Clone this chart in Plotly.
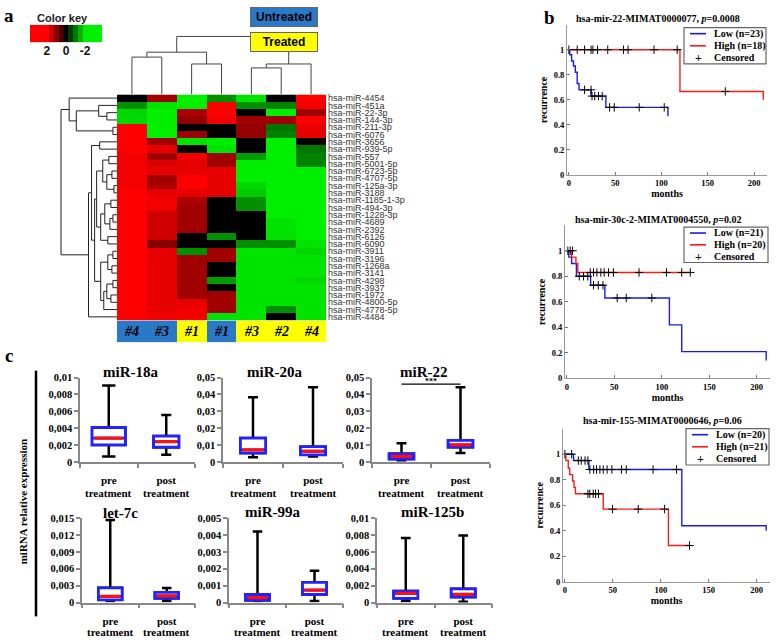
import plotly.graph_objects as go

W, H = 778, 643
SERIF = "Liberation Serif"
SANS = "Liberation Sans"

# ---------------- heatmap data ----------------
row_labels = ["hsa-miR-4454", "hsa-miR-451a", "hsa-miR-22-3p", "hsa-miR-144-3p", "hsa-miR-211-3p",
              "hsa-miR-6076", "hsa-miR-3656", "hsa-miR-939-5p", "hsa-miR-557", "hsa-miR-5001-5p",
              "hsa-miR-6723-5p", "hsa-miR-4707-5p", "hsa-miR-125a-3p", "hsa-miR-3188", "hsa-miR-1185-1-3p",
              "hsa-miR-494-3p", "hsa-miR-1228-3p", "hsa-miR-4689", "hsa-miR-2392", "hsa-miR-6126",
              "hsa-miR-6090", "hsa-miR-3911", "hsa-miR-3196", "hsa-miR-1268a", "hsa-miR-3141",
              "hsa-miR-4298", "hsa-miR-3937", "hsa-miR-1972", "hsa-miR-4800-5p", "hsa-miR-4778-5p",
              "hsa-miR-4484"]
col_labels = ["#4", "#3", "#1", "#1", "#3", "#2", "#4"]
col_groups = [0, 0, 1, 0, 1, 1, 1]          # 0 = Untreated, 1 = Treated
group_names = ["Untreated", "Treated"]
z_expr = [
    [0, 1.2, -2, -1.2, -1.9, 0, 2],
    [-1.2, -1.9, -2, 2, -1.2, -1.1, 1.9],
    [-1.8, -2, 1.3, 2, 0, -2, 1.2],
    [-1.8, -2, 1.1, 1.9, 1.2, 1.2, 2],
    [2, -2, 0, 0, 1.1, -1.0, 1.8],
    [2, -2, 1.2, 0, 1.1, -1.1, 1.8],
    [2, 1.2, -1.9, -2, 0, -2, 0],
    [2, 1.8, 0, -1.9, 0, -2, -1.0],
    [1.9, 1.2, 1.9, 1.2, -1.3, -2, -1.1],
    [1.9, 1.7, 1.8, 1.2, -2, -2, -1.1],
    [1.9, 1.8, 1.8, 1.8, -2, -2, -2],
    [1.9, 1.2, 2, 1.8, -2, -2, -2],
    [1.9, 1.3, 2, 1.8, -1.8, -2, -2],
    [2, 1.8, 1.8, 1.8, -1.7, -2, -2],
    [2, 1.9, 1.3, 0, -1.2, -2, -2],
    [2, 1.9, 1.2, 0, -1.2, -2, -2],
    [2, 1.6, 1.2, 0, 0, -2, -2],
    [2, 1.6, 1.2, 0, 0, -1.9, -2],
    [2, 1.6, 1.2, 0, 0, -1.9, -2],
    [2, 1.6, 0, -1.2, 0, -1.9, -2],
    [2, 1.0, 0, 0, -1.2, -1.2, -1.9],
    [2, 1.8, -1.2, 1.2, -1.9, -1.9, -1.8],
    [2, 1.8, 1.2, 1.2, -1.9, -1.9, -1.9],
    [2, 1.8, 1.2, 0, -1.9, -1.9, -1.9],
    [2, 1.8, 1.2, 0, -1.9, -1.9, -1.9],
    [2, 1.8, 1.2, -1.3, -1.9, -1.9, -1.8],
    [2, 1.8, 1.2, 0, -1.9, -1.9, -1.9],
    [2, 1.8, 1.2, 1.2, -1.9, -1.9, -1.9],
    [2, 1.8, 1.8, 1.2, -1.9, -1.9, -1.9],
    [2, 1.8, 1.9, 1.2, -1.9, -1.2, -1.9],
    [2, 1.9, 1.9, -1.9, -1.9, 0, -1.9],
]
color_key_levels = [3.5, 3.0, 2.5, 2.0, 1.5, 1.0, 0.5, 0.0, -0.5, -1.0, -1.5, -2.0, -2.5, -3.0, -3.5]
color_key_ticks = [2, 0, -2]
# linkage lists: [child a, child b, height]
row_merges = [[2, 3, 10], [1, 31, 18], [4, 5, 4], [32, 33, 40], [0, 34, 47],
              [6, 7, 17], [8, 9, 8], [10, 11, 5], [12, 13, 3], [38, 39, 10], [37, 40, 14],
              [14, 15, 6], [16, 17, 4], [43, 18, 7], [42, 44, 12], [19, 20, 9], [45, 46, 16],
              [41, 47, 20], [21, 22, 4], [23, 24, 5], [49, 50, 9], [25, 26, 4], [27, 28, 6],
              [52, 53, 10], [54, 29, 13], [51, 55, 16], [48, 56, 22], [36, 57, 25],
              [58, 30, 28], [35, 59, 55]]
col_merges = [[0, 1, 38], [2, 3, 31], [7, 8, 43], [4, 5, 27], [10, 6, 31], [9, 11, 59]]

# ---------------- Kaplan-Meier data ----------------
km_titles = ["hsa-mir-22-MIMAT0000077, <i>p</i>=0.0008",
             "hsa-mir-30c-2-MIMAT0004550, <i>p</i>=0.02",
             "hsa-mir-155-MIMAT0000646, <i>p</i>=0.06"]
km_low_names = ["Low (n=23)", "Low (n=21)", "Low (n=20)"]
km_high_names = ["High (n=18)", "High (n=20)", "High (n=21)"]
km_cens_name = "Censored"
km_low_t = [[0, 1, 3, 5, 7, 9, 11, 24, 40, 107],
            [0, 2, 5, 10, 25, 40, 108, 121, 210],
            [0, 9, 25, 122, 210]]
km_low_s = [[1, 0.96, 0.91, 0.87, 0.82, 0.73, 0.68, 0.63, 0.54, 0.47],
            [1, 0.95, 0.9, 0.8, 0.73, 0.63, 0.42, 0.21, 0.14],
            [1, 0.95, 0.88, 0.44, 0.40]]
km_high_t = [[0, 120, 210],
             [0, 5, 9.5, 11.5, 130],
             [0, 1, 3.5, 5, 8, 9.5, 11, 40, 108, 130]]
km_high_s = [[1, 0.667, 0.6],
             [1, 0.95, 0.9, 0.83, 0.83],
             [1, 0.95, 0.89, 0.84, 0.79, 0.74, 0.69, 0.57, 0.285, 0.285]]
km_cens_t = [[0, 9, 17, 24, 26, 31, 42, 59, 64, 92, 117, 169, 17, 24, 25, 28, 32, 36, 44, 49, 76, 103],
             [1, 3.5, 6, 13, 17.5, 22, 28, 33, 38, 53, 62.5, 89.5,
              24.6, 28, 31.6, 35.8, 39.3, 43.9, 49, 76, 105, 121, 130],
             [0, 7, 14, 17, 21, 24, 26, 30, 33, 36.5, 40, 44, 49, 59, 64, 92, 116.5,
              24, 26, 29.5, 32, 35, 49.7, 76.5, 104, 130]]
km_cens_s = [[1, 1, 1, 1, 1, 1, 1, 1, 1, 1, 1, 0.667, 0.68, 0.68, 0.63, 0.63, 0.63, 0.63, 0.54, 0.54, 0.54, 0.54],
             [1, 1, 1, 0.8, 0.8, 0.8, 0.73, 0.73, 0.73, 0.63, 0.63, 0.63,
              0.83, 0.83, 0.83, 0.83, 0.83, 0.83, 0.83, 0.83, 0.83, 0.83, 0.83],
             [1, 1, 0.95, 0.95, 0.95, 0.95, 0.88, 0.88, 0.88, 0.88, 0.88, 0.88, 0.88, 0.88, 0.88, 0.88, 0.88,
              0.69, 0.69, 0.69, 0.69, 0.69, 0.57, 0.57, 0.57, 0.285]]
km_xticks = [0, 50, 100, 150, 200]
km_yticks = [0, 0.2, 0.4, 0.6, 0.8, 1]
km_yticktext = ["0", "0.2", "0.4", "0.6", "0.8", "1"]

# ---------------- box plot data ----------------
box_titles = ["miR-18a", "miR-20a", "miR-22", "let-7c", "miR-99a", "miR-125b"]
box_groups = ["pre", "post"]
box_group_suffix = "treatment"
box_ymax = [0.01, 0.05, 0.05, 0.015, 0.005, 0.01]
box_tickvals = [[0, 0.002, 0.004, 0.006, 0.008, 0.01],
                [0, 0.01, 0.02, 0.03, 0.04, 0.05],
                [0, 0.01, 0.02, 0.03, 0.04, 0.05],
                [0, 0.003, 0.006, 0.009, 0.012, 0.015],
                [0, 0.001, 0.002, 0.003, 0.004, 0.005],
                [0, 0.002, 0.004, 0.006, 0.008, 0.01]]
box_ticktext = [["0", "0,002", "0,004", "0,006", "0,008", "0,01"],
                ["0", "0,01", "0,02", "0,03", "0,04", "0,05"],
                ["0", "0,01", "0,02", "0,03", "0,04", "0,05"],
                ["0", "0,003", "0,006", "0,009", "0,012", "0,015"],
                ["0", "0,001", "0,002", "0,003", "0,004", "0,005"],
                ["0", "0,002", "0,004", "0,006", "0,008", "0,01"]]
pre_low = [0.00066, 0.0029, 0.0010, 0.0003, 0.0001, 0.0002]
pre_q1 = [0.00202, 0.0053, 0.0018, 0.0005, 0.00014, 0.0005]
pre_med = [0.00284, 0.0072, 0.0033, 0.0011, 0.00029, 0.00109]
pre_q3 = [0.00409, 0.0142, 0.0049, 0.00262, 0.00048, 0.00136]
pre_high = [0.00907, 0.0383, 0.0111, 0.01465, 0.00421, 0.00764]
post_low = [0.00086, 0.0033, 0.0054, 0.0003, 0.0001, 0.0001]
post_q1 = [0.00175, 0.0043, 0.0088, 0.00076, 0.00048, 0.00066]
post_med = [0.00241, 0.0064, 0.0101, 0.0012, 0.00074, 0.00097]
post_q3 = [0.00307, 0.0091, 0.0128, 0.0018, 0.0012, 0.00163]
post_high = [0.00556, 0.0442, 0.0442, 0.0026, 0.00188, 0.00795]
sig_panel = 2
sig_level = 0.0461
sig_text = "***"

# ---------------- style ----------------
BLUE_GRP = "#2a79c8"
YELLOW_GRP = "#ffff00"
HM_SCALE = [[0, "#00f000"], [0.25, "#007800"], [0.5, "#000000"], [0.75, "#880000"], [1, "#ff0000"]]
KM_BLUE = "#1a1aee"
KM_RED = "#ff1a1a"
BOX_BLUE = "#2222ff"
pre_width = [0.58, 0.42, 0.42, 0.42, 0.42, 0.42]
post_width = [0.44, 0.42, 0.42, 0.42, 0.42, 0.42]


def dx(a, b):
    return [a / W, b / W]


def dy(top, bottom):
    return [1 - bottom / H, 1 - top / H]


def dendro(n, merges):
    pos = {i: float(i) for i in range(n)}
    hgt = {i: 0.0 for i in range(n)}
    hs, ps = [], []
    for k, (a, b, h) in enumerate(merges):
        node = n + k
        hs += [hgt[a], h, h, hgt[b], None]
        ps += [pos[a], pos[a], pos[b], pos[b], None]
        pos[node] = (pos[a] + pos[b]) / 2
        hgt[node] = h
    return hs, ps


fig = go.Figure()
layout = {}
annotations = []
shapes = []
HIDE = dict(visible=False, fixedrange=True, showgrid=False, zeroline=False)


def note(px, py, text, font, **kw):
    d = dict(x=px / W, y=1 - py / H, xref="paper", yref="paper", text=text, showarrow=False,
             xanchor="center", yanchor="middle", font=font)
    d.update(kw)
    annotations.append(d)


def axes(n, xdom, ydom, xo, yo):
    xk = "xaxis" if n == 1 else f"xaxis{n}"
    yk = "yaxis" if n == 1 else f"yaxis{n}"
    layout[xk] = dict(domain=xdom, anchor="y" if n == 1 else f"y{n}", **xo)
    layout[yk] = dict(domain=ydom, anchor="x" if n == 1 else f"x{n}", **yo)
    return ("x" if n == 1 else f"x{n}"), ("y" if n == 1 else f"y{n}")


# ---- heatmap ----
xa, ya = axes(1, dx(117, 326), dy(91, 321),
              dict(HIDE, range=[-0.5, 6.5]),
              dict(range=[len(row_labels) - 0.5, -0.5], side="right", tickmode="array",
                   tickvals=list(range(len(row_labels))), ticktext=row_labels, ticks="",
                   tickfont=dict(family=SANS, size=9, color="#333"), showgrid=False,
                   zeroline=False, showline=False, ticklabelstandoff=1, fixedrange=True))
fig.add_trace(go.Heatmap(z=z_expr, x=list(range(len(col_labels))), y=list(range(len(row_labels))),
                         colorscale=HM_SCALE, zmin=-2, zmax=2, showscale=False,
                         xaxis=xa, yaxis=ya, hoverinfo="skip"))

# ---- row dendrogram ----
hs, ps = dendro(len(row_labels), row_merges)
xa, ya = axes(2, dx(60, 117), dy(91, 321),
              dict(HIDE, range=[56, 0]),
              dict(HIDE, range=[len(row_labels) - 0.5, -0.5]))
fig.add_trace(go.Scatter(x=hs, y=ps, mode="lines", line=dict(color="#222", width=1),
                         xaxis=xa, yaxis=ya, showlegend=False, hoverinfo="skip"))

# ---- column dendrogram ----
hs, ps = dendro(len(col_labels), col_merges)
xa, ya = axes(3, dx(117, 326), dy(30, 91),
              dict(HIDE, range=[-0.5, 6.5]),
              dict(HIDE, range=[0, 61]))
fig.add_trace(go.Scatter(x=ps, y=hs, mode="lines", line=dict(color="#444", width=1),
                         xaxis=xa, yaxis=ya, showlegend=False, hoverinfo="skip"))

# ---- group bar ----
xa, ya = axes(4, dx(117, 326), dy(321, 343),
              dict(HIDE, range=[-0.5, 6.5]),
              dict(HIDE, range=[-0.5, 0.5]))
fig.add_trace(go.Heatmap(z=[col_groups], x=list(range(len(col_labels))), y=[0],
                         colorscale=[[0, BLUE_GRP], [1, YELLOW_GRP]], zmin=0, zmax=1,
                         showscale=False, xaxis=xa, yaxis=ya, hoverinfo="skip"))
for i, lab in enumerate(col_labels):
    annotations.append(dict(x=i, y=0, xref=xa, yref=ya, text=lab, showarrow=False,
                            xanchor="center", yanchor="middle",
                            font=dict(family=SERIF, size=14, color="black", weight="bold", style="italic")))

# ---- colour key ----
xa, ya = axes(5, dx(30, 102), dy(20, 38),
              dict(range=[-0.5, len(color_key_levels) - 0.5], tickmode="array",
                   tickvals=[color_key_levels.index(v) for v in color_key_ticks],
                   ticktext=[str(v) for v in color_key_ticks], ticks="", showgrid=False,
                   zeroline=False, showline=False, fixedrange=True, ticklabelstandoff=0,
                   tickfont=dict(family=SANS, size=12, color="#111", weight="bold")),
              dict(HIDE, range=[-0.5, 0.5]))
fig.add_trace(go.Heatmap(z=[color_key_levels], x=list(range(len(color_key_levels))), y=[0],
                         colorscale=HM_SCALE, zmin=-2, zmax=2, showscale=False,
                         xaxis=xa, yaxis=ya, hoverinfo="skip"))
note(63, 13, "Color key", dict(family=SANS, size=11, color="#222", weight="bold"))

# group legend boxes
for k, (name, col) in enumerate(zip(group_names, [BLUE_GRP, YELLOW_GRP])):
    note(283.5, 12.5 + 25 * k, name, dict(family=SANS, size=12, color="black", weight="bold"),
         width=64, height=16, bgcolor=col, bordercolor="#666", borderwidth=1, borderpad=1)

# panel letters
for letter, px, py in [("a", 9, 11), ("b", 549, 13), ("c", 9, 357)]:
    note(px, py, letter, dict(family=SERIF, size=19, color="black", weight="bold"))

# ---- Kaplan-Meier panels ----
km_dom = [((567, 767), (20, 173)), ((565, 770), (224, 380)), ((563, 770), (431, 587))]
km_title_pos = [(658, 14), (658, 218), (662, 423)]
km_leg_box = [(684, 23, 766, 60), (684, 226, 768, 262), (686, 431, 769, 468)]
for i in range(3):
    (x0, x1), (y0, y1) = km_dom[i]
    axcommon = dict(showline=True, linecolor="#999", linewidth=1, ticks="inside", ticklen=3,
                    tickcolor="#777", showgrid=False, zeroline=False, fixedrange=True,
                    tickfont=dict(family=SERIF, size=8.5, color="black", weight="bold"))
    xa, ya = axes(6 + i, dx(x0, x1), dy(y0, y1),
                  dict(axcommon, range=[-2, 214], tickmode="array", tickvals=km_xticks,
                       title=dict(text="months", standoff=2,
                                  font=dict(family=SERIF, size=10, color="black", weight="bold"))),
                  dict(axcommon, range=[0, 1.2], tickmode="array", tickvals=km_yticks,
                       ticktext=km_yticktext,
                       title=dict(text="recurrence", standoff=4,
                                  font=dict(family=SERIF, size=10, color="black", weight="bold"))))
    fig.add_trace(go.Scatter(x=km_low_t[i], y=km_low_s[i], mode="lines", line_shape="hv",
                             line=dict(color=KM_BLUE, width=1.4), name=km_low_names[i],
                             showlegend=False, xaxis=xa, yaxis=ya, hoverinfo="skip"))
    fig.add_trace(go.Scatter(x=km_high_t[i], y=km_high_s[i], mode="lines", line_shape="hv",
                             line=dict(color=KM_RED, width=1.4), name=km_high_names[i],
                             showlegend=False, xaxis=xa, yaxis=ya, hoverinfo="skip"))
    fig.add_trace(go.Scatter(x=km_cens_t[i], y=km_cens_s[i], mode="markers", name=km_cens_name,
                             marker=dict(symbol="cross-thin", size=6, color="black",
                                         line=dict(color="black", width=1)),
                             showlegend=False, xaxis=xa, yaxis=ya, hoverinfo="skip"))
    # compact legend box (key)
    lx0, ly0, lx1, ly1 = km_leg_box[i]
    shapes.append(dict(type="rect", xref="paper", yref="paper", x0=lx0 / W, x1=lx1 / W,
                       y0=1 - ly0 / H, y1=1 - ly1 / H, line=dict(color="#666", width=1.2),
                       fillcolor="white"))
    step = (ly1 - ly0) / 3
    for r, (col, lab) in enumerate([(KM_BLUE, km_low_names[i]), (KM_RED, km_high_names[i]),
                                    (None, km_cens_name)]):
        yy = ly0 + step * (r + 0.5)
        if col:
            shapes.append(dict(type="line", xref="paper", yref="paper", x0=(lx0 + 6) / W,
                               x1=(lx0 + 22) / W, y0=1 - yy / H, y1=1 - yy / H,
                               line=dict(color=col, width=1.6)))
        else:
            note(lx0 + 14, yy, "+", dict(family=SERIF, size=12, color="black", weight="bold"))
        note(lx0 + 28, yy, lab, dict(family=SERIF, size=10, color="black", weight="bold"),
             xanchor="left")
    tx, ty = km_title_pos[i]
    note(tx, ty, km_titles[i], dict(family=SERIF, size=10, color="black", weight="bold"))

# ---- box plot panels ----
box_dom = [((80, 195), (379, 465)), ((223, 343), (379, 465)), ((372, 490), (379, 465)),
           ((82, 195), (522, 608)), ((229, 343), (522, 608)), ((377, 492), (522, 608))]
box_title_pos = [(130, 373), (274, 373), (424, 373), (120, 517), (272, 516), (432, 516)]
box_suffix_y = [497, 497, 497, 638, 638, 638]
for i in range(6):
    (x0, x1), (y0, y1) = box_dom[i]
    xa, ya = axes(9 + i, dx(x0, x1), dy(y0, y1),
                  dict(range=[-0.5, 1.5], tickmode="array", tickvals=[0, 1], ticktext=box_groups,
                       ticks="", showline=True, linecolor="#888", linewidth=1.5, showgrid=False,
                       zeroline=False, fixedrange=True, ticklabelstandoff=7,
                       minor=dict(tickmode="array", tickvals=[-0.5, 0.5, 1.5], ticks="outside",
                                  ticklen=4, tickcolor="#888", tickwidth=1.5, showgrid=False),
                       tickfont=dict(family=SERIF, size=11, color="black", weight="bold")),
                  dict(range=[0, box_ymax[i]], tickmode="array", tickvals=box_tickvals[i],
                       ticktext=box_ticktext[i], ticks="outside", ticklen=4, tickcolor="#888",
                       tickwidth=1.5, showline=True, linecolor="#888", linewidth=1.5,
                       showgrid=False, zeroline=False, fixedrange=True,
                       tickfont=dict(family=SERIF, size=10.5, color="black", weight="bold")))
    for gx in range(len(box_groups)):
        annotations.append(dict(x=gx, xref=xa, y=1 - box_suffix_y[i] / H, yref="paper",
                                text=box_group_suffix, showarrow=False, xanchor="center",
                                yanchor="middle",
                                font=dict(family=SERIF, size=11, color="black", weight="bold")))
    groups = [(0, pre_low[i], pre_q1[i], pre_med[i], pre_q3[i], pre_high[i], pre_width[i]),
              (1, post_low[i], post_q1[i], post_med[i], post_q3[i], post_high[i], post_width[i])]
    for xpos, lo, q1, md, q3, hi, w in groups:
        fig.add_trace(go.Box(x=[xpos], q1=[q1], median=[md], q3=[q3], lowerfence=[lo],
                             upperfence=[hi], width=w, whiskerwidth=0.4,
                             line=dict(color="black", width=2.5), fillcolor="white",
                             xaxis=xa, yaxis=ya, showlegend=False, hoverinfo="skip"))
        fig.add_trace(go.Box(x=[xpos], q1=[q1], median=[md], q3=[q3], lowerfence=[q1],
                             upperfence=[q3], width=w, whiskerwidth=0,
                             line=dict(color=BOX_BLUE, width=2.8), fillcolor="white",
                             xaxis=xa, yaxis=ya, showlegend=False, hoverinfo="skip"))
        fig.add_trace(go.Scatter(x=[xpos - w * 0.42, xpos + w * 0.42], y=[md, md], mode="lines",
                                 line=dict(color="#ff1010", width=3.2), xaxis=xa, yaxis=ya,
                                 showlegend=False, hoverinfo="skip"))
    if i == sig_panel:
        fig.add_trace(go.Scatter(x=[0, 1], y=[sig_level, sig_level], mode="lines",
                                 line=dict(color="black", width=1.2), xaxis=xa, yaxis=ya,
                                 showlegend=False, hoverinfo="skip"))
        annotations.append(dict(x=0.5, y=sig_level, xref=xa, yref=ya, text=sig_text,
                                showarrow=False, xanchor="center", yanchor="bottom", yshift=-4,
                                font=dict(family=SERIF, size=8, color="black", weight="bold")))
    tx, ty = box_title_pos[i]
    note(tx, ty, box_titles[i], dict(family=SERIF, size=15, color="black", weight="bold"))

note(23, 506, "miRNA relative expression", dict(family=SERIF, size=11, color="black", weight="bold"),
     textangle=-90)
shapes.append(dict(type="line", xref="paper", yref="paper", x0=36 / W, x1=36 / W,
                   y0=1 - 372 / H, y1=1 - 622 / H, line=dict(color="black", width=2.5)))

fig.update_layout(
    width=W, height=H, margin=dict(l=0, r=0, t=0, b=0),
    paper_bgcolor="white", plot_bgcolor="white", boxmode="overlay", showlegend=False,
    annotations=annotations, shapes=shapes,
    **layout,
)
fig.write_html("out.html", config={"displayModeBar": False},
               post_script="document.body.style.margin='0px';")
